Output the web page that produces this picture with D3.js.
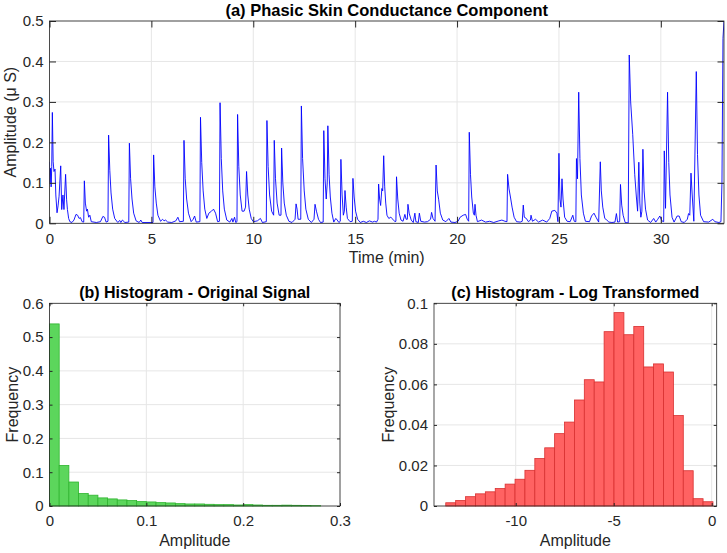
<!DOCTYPE html>
<html>
<head>
<meta charset="utf-8">
<script src="https://cdn.jsdelivr.net/npm/d3@7"></script>
<style>
  body { margin: 0; background: #fff; }
  svg { font-family: "Liberation Sans", Arial, Helvetica, sans-serif; }
</style>
</head>
<body>
<script>
// phasic component: [time (min), amplitude (uS)]
const signal = [
  [0,0.152],[0.02,0.10],[0.05,0.136],[0.08,0.09],[0.11,0.14],[0.14,0.274],[0.18,0.152],[0.22,0.128],
  [0.27,0.134],[0.31,0.07],[0.37,0.026],[0.42,0.043],[0.47,0.067],[0.55,0.142],[0.6,0.034],[0.66,0.07],
  [0.71,0.034],[0.79,0.121],[0.84,0.058],[0.88,0.034],[0.94,0.012],[1.0,0.004],[1.1,0.002],[1.2,0.008],
  [1.3,0.022],[1.38,0.02],[1.45,0.012],[1.52,0.014],[1.6,0.004],[1.68,0.003],[1.71,0.105],[1.76,0.05],
  [1.82,0.03],[1.86,0.035],[1.92,0.015],[1.98,0.02],[2.05,0.004],[2.3,0.002],[2.5,0.004],[2.62,0.017],
  [2.7,0.015],[2.78,0.003],[2.87,0.005],[2.9,0.218],[2.96,0.13],[3.02,0.075],[3.1,0.035],[3.2,0.012],
  [3.35,0.002],[3.45,0.007],[3.5,0.002],[3.58,0.008],[3.7,0.002],[3.89,0.003],[3.92,0.198],[3.98,0.11],
  [4.05,0.06],[4.13,0.025],[4.25,0.006],[4.4,0.002],[4.48,0.008],[4.55,0.002],[5.08,0.002],[5.11,0.169],
  [5.17,0.09],[5.24,0.05],[5.32,0.02],[5.45,0.005],[5.55,0.01],[5.62,0.006],[5.7,0.008],[5.8,0.003],
  [6.0,0.002],[6.2,0.006],[6.3,0.015],[6.38,0.004],[6.57,0.005],[6.6,0.205],[6.66,0.11],[6.73,0.06],
  [6.82,0.025],[6.95,0.004],[7.05,0.01],[7.12,0.018],[7.2,0.003],[7.38,0.004],[7.41,0.262],[7.47,0.15],
  [7.54,0.08],[7.62,0.035],[7.72,0.012],[7.82,0.025],[7.95,0.03],[8.05,0.035],[8.15,0.025],[8.25,0.004],
  [8.34,0.005],[8.37,0.298],[8.43,0.16],[8.5,0.08],[8.58,0.035],[8.7,0.008],[8.85,0.003],[8.95,0.012],
  [9.0,0.003],[9.08,0.015],[9.14,0.002],[9.2,0.004],[9.23,0.269],[9.29,0.14],[9.36,0.07],[9.45,0.03],
  [9.55,0.03],[9.62,0.04],[9.67,0.128],[9.73,0.07],[9.8,0.035],[9.9,0.012],[10.0,0.004],[10.2,0.006],
  [10.35,0.012],[10.45,0.002],[10.64,0.004],[10.67,0.254],[10.73,0.14],[10.8,0.07],[10.9,0.03],[11.0,0.02],
  [11.03,0.205],[11.09,0.11],[11.17,0.05],[11.27,0.02],[11.36,0.02],[11.39,0.186],[11.45,0.1],[11.52,0.05],
  [11.62,0.02],[11.75,0.005],[11.9,0.002],[12.05,0.01],[12.1,0.048],[12.15,0.035],[12.2,0.01],[12.33,0.01],
  [12.36,0.29],[12.42,0.16],[12.5,0.08],[12.58,0.035],[12.7,0.01],[12.85,0.002],[12.98,0.01],[13.03,0.047],
  [13.1,0.03],[13.2,0.01],[13.3,0.002],[13.43,0.003],[13.46,0.229],[13.52,0.11],[13.58,0.06],[13.63,0.1],
  [13.66,0.241],[13.72,0.12],[13.78,0.065],[13.86,0.025],[13.95,0.003],[14.05,0.012],[14.12,0.008],[14.2,0.002],
  [14.27,0.005],[14.3,0.158],[14.36,0.07],[14.42,0.02],[14.47,0.03],[14.5,0.081],[14.56,0.04],[14.62,0.012],
  [14.75,0.004],[14.86,0.005],[14.89,0.111],[14.95,0.065],[15.02,0.03],[15.12,0.01],[15.25,0.002],[15.4,0.005],
  [15.55,0.002],[15.7,0.006],[15.85,0.003],[15.95,0.005],[16.05,0.003],[16.12,0.01],[16.15,0.097],[16.2,0.06],
  [16.25,0.044],[16.31,0.086],[16.35,0.08],[16.4,0.167],[16.45,0.09],[16.5,0.05],[16.56,0.02],[16.65,0.012],
  [16.75,0.015],[16.85,0.01],[16.95,0.004],[17.0,0.005],[17.03,0.115],[17.09,0.06],[17.16,0.025],[17.25,0.008],
  [17.35,0.005],[17.44,0.022],[17.5,0.01],[17.56,0.01],[17.59,0.047],[17.65,0.025],[17.75,0.008],[17.85,0.002],
  [17.93,0.025],[17.98,0.004],[18.1,0.002],[18.15,0.025],[18.22,0.005],[18.4,0.003],[18.55,0.004],[18.7,0.01],
  [18.75,0.027],[18.82,0.012],[18.92,0.005],[18.97,0.144],[19.03,0.08],[19.1,0.058],[19.18,0.025],[19.3,0.008],
  [19.45,0.004],[19.6,0.012],[19.7,0.003],[19.9,0.002],[20.05,0.005],[20.15,0.015],[20.3,0.02],[20.42,0.022],
  [20.5,0.01],[20.57,0.005],[20.6,0.225],[20.66,0.12],[20.72,0.065],[20.8,0.025],[20.85,0.02],[20.88,0.047],
  [20.93,0.02],[21.0,0.004],[21.2,0.008],[21.4,0.003],[21.6,0.005],[21.8,0.002],[22.05,0.006],[22.2,0.008],
  [22.35,0.005],[22.45,0.004],[22.48,0.121],[22.55,0.085],[22.62,0.065],[22.7,0.04],[22.8,0.015],[22.92,0.004],
  [23.1,0.003],[23.2,0.005],[23.25,0.045],[23.3,0.015],[23.4,0.012],[23.5,0.004],[23.6,0.008],[23.63,0.02],
  [23.7,0.005],[23.85,0.01],[24.0,0.003],[24.2,0.008],[24.4,0.003],[24.55,0.012],[24.65,0.03],[24.8,0.032],
  [24.9,0.025],[24.95,0.004],[25.0,0.173],[25.05,0.06],[25.1,0.04],[25.15,0.11],[25.2,0.06],[25.28,0.015],
  [25.4,0.005],[25.55,0.004],[25.68,0.02],[25.75,0.005],[25.83,0.004],[25.86,0.16],[25.91,0.11],[25.97,0.324],
  [26.03,0.16],[26.1,0.07],[26.2,0.025],[26.3,0.005],[26.5,0.004],[26.6,0.018],[26.72,0.025],[26.82,0.015],
  [26.95,0.003],[27.03,0.152],[27.08,0.08],[27.15,0.04],[27.25,0.012],[27.35,0.008],[27.45,0.003],[27.6,0.002],
  [27.75,0.003],[27.82,0.024],[27.88,0.003],[27.98,0.004],[28.02,0.096],[28.08,0.045],[28.15,0.02],[28.25,0.002],
  [28.4,0.001],[28.45,0.416],[28.52,0.3],[28.62,0.22],[28.72,0.12],[28.8,0.065],[28.86,0.03],[28.92,0.151],
  [28.97,0.05],[29.02,0.015],[29.07,0.03],[29.12,0.183],[29.18,0.08],[29.25,0.035],[29.35,0.008],[29.5,0.002],
  [29.65,0.012],[29.75,0.003],[29.85,0.01],[29.95,0.018],[30.05,0.006],[30.14,0.004],[30.17,0.179],[30.23,0.037],
  [30.33,0.324],[30.39,0.15],[30.45,0.07],[30.55,0.015],[30.65,0.003],[30.8,0.018],[30.9,0.018],[31.0,0.004],
  [31.15,0.002],[31.3,0.01],[31.36,0.024],[31.42,0.02],[31.48,0.124],[31.54,0.07],[31.62,0.005],[31.74,0.375],
  [31.8,0.17],[31.87,0.07],[31.95,0.02],[32.1,0.004],[32.35,0.003],[32.55,0.01],[32.65,0.004],[32.85,0.002],
  [32.95,0.004],[33.0,0.1],[33.05,0.457],[33.1,0.5]
];

// histogram of the original signal, bins of 0.01 starting at 0
const origStart = 0, origWidth = 0.01;
const origFreq = [0.539,0.120,0.071,0.037,0.032,0.024,0.021,0.018,0.016,0.013,0.012,0.010,0.009,0.007,
  0.006,0.006,0.005,0.004,0.004,0.003,0.004,0.003,0.002,0.002,0.0025,0.002,0.0015,0.001];

// histogram of log amplitude
const logStart = -13.57, logWidth = 0.505;
const logFreq = [0.0016,0.0027,0.0046,0.0060,0.0070,0.0086,0.0108,0.0132,0.0176,0.0234,0.0287,0.0357,
  0.0414,0.0523,0.0623,0.0612,0.0860,0.0954,0.0845,0.0886,0.0686,0.0701,0.0661,0.0446,0.0174,0.0036,0.0021];

const timeTicks = [0,5,10,15,20,25,30];
const ampTicks = [0,0.1,0.2,0.3,0.4,0.5];
const origXTicks = [0,0.1,0.2,0.3];
const origYTicks = [0,0.1,0.2,0.3,0.4,0.5,0.6];
const logXTicks = [-10,-5,0];
const logYTicks = [0,0.02,0.04,0.06,0.08,0.1];

const W = 727, H = 553;
const ink = "#262626";
const fmt = d => String(Math.round(d * 1000) / 1000);

const svg = d3.select("body").append("svg").attr("width", W).attr("height", H);

function panel(box, xDom, yDom, xTicks, yTicks, tl) {
  const x = d3.scaleLinear().domain(xDom).range([box.l, box.r]);
  const y = d3.scaleLinear().domain(yDom).range([box.b, box.t]);
  const g = svg.append("g");
  const grid = g.append("g").attr("stroke", "#e6e6e6").attr("stroke-width", 1);
  grid.selectAll(".gx").data(xTicks).join("line")
    .attr("x1", d => x(d)).attr("x2", d => x(d)).attr("y1", box.t).attr("y2", box.b);
  grid.selectAll(".gy").data(yTicks).join("line")
    .attr("x1", box.l).attr("x2", box.r).attr("y1", d => y(d)).attr("y2", d => y(d));
  const data = g.append("g");
  const axes = g.append("g");
  return {x, y, g, data, axes, box, xTicks, yTicks, tl};
}

function finish(p, xpad, ypad) {
  const {x, y, axes, box, xTicks, yTicks, tl} = p;
  const style = s => {
    s.select(".domain").remove();
    s.selectAll(".tick line").attr("stroke", ink);
    s.selectAll(".tick text").attr("fill", ink).style("font-size", "15px");
  };
  axes.append("g").attr("transform", `translate(0,${box.b})`)
    .call(d3.axisBottom(x).tickValues(xTicks).tickSize(-tl).tickPadding(xpad).tickFormat(fmt)).call(style);
  axes.append("g").attr("transform", `translate(0,${box.t})`)
    .call(d3.axisTop(x).tickValues(xTicks).tickSize(-tl).tickFormat("")).call(style);
  axes.append("g").attr("transform", `translate(${box.l},0)`)
    .call(d3.axisLeft(y).tickValues(yTicks).tickSize(-tl).tickPadding(ypad).tickFormat(fmt)).call(style);
  axes.append("g").attr("transform", `translate(${box.r},0)`)
    .call(d3.axisRight(y).tickValues(yTicks).tickSize(-tl).tickFormat("")).call(style);
  axes.selectAll("g").attr("font-family", null);
  axes.append("rect").attr("x", box.l).attr("y", box.t)
    .attr("width", box.r - box.l).attr("height", box.b - box.t)
    .attr("fill", "none").attr("stroke", ink).attr("stroke-width", 0.8);
}

function labels(box, title, xl, yl, titleSize, ylx) {
  const cx = (box.l + box.r) / 2;
  svg.append("text").attr("x", cx).attr("y", box.t - 5).attr("text-anchor", "middle")
    .style("font-size", titleSize + "px").style("font-weight", "bold").attr("fill", "#000").text(title);
  svg.append("text").attr("x", cx).attr("y", box.b + 40).attr("text-anchor", "middle")
    .style("font-size", "16px").attr("fill", ink).text(xl);
  svg.append("text").attr("transform", `translate(${ylx},${(box.t + box.b) / 2}) rotate(-90)`)
    .attr("text-anchor", "middle").style("font-size", "16px").attr("fill", ink).text(yl);
}

// (a) signal
const pa = panel({l: 49.5, r: 724, t: 21, b: 223.3}, [0, 33.1], [0, 0.5], timeTicks, ampTicks, 6.5);
svg.append("clipPath").attr("id", "clipA").append("rect")
  .attr("x", pa.box.l).attr("y", pa.box.t).attr("width", pa.box.r - pa.box.l).attr("height", pa.box.b - pa.box.t);
pa.data.attr("clip-path", "url(#clipA)").append("path")
  .datum(signal)
  .attr("d", d3.line().x(d => pa.x(d[0])).y(d => pa.y(d[1])))
  .attr("fill", "none").attr("stroke", "#0000ff").attr("stroke-width", 0.9).attr("stroke-linejoin", "round");
finish(pa, 10, 6);
labels(pa.box, "(a) Phasic Skin Conductance Component", "Time (min)", "Amplitude (\u03bc S)", 16.5, 16);

// (b) original histogram
const pb = panel({l: 49.5, r: 340, t: 303.3, b: 506}, [0, 0.3], [0, 0.6], origXTicks, origYTicks, 3);
pb.data.selectAll("rect").data(origFreq).join("rect")
  .attr("x", (d, i) => pb.x(origStart + i * origWidth))
  .attr("width", (d, i) => pb.x(origStart + (i + 1) * origWidth) - pb.x(origStart + i * origWidth))
  .attr("y", d => pb.y(d)).attr("height", d => pb.y(0) - pb.y(d))
  .attr("fill", "#5cd65c").attr("stroke", "#2fb52f").attr("stroke-width", 0.8);
finish(pb, 9, 6);
labels(pb.box, "(b) Histogram - Original Signal", "Amplitude", "Frequency", 16, 18);

// (c) log histogram
const pc = panel({l: 434, r: 716.7, t: 303.3, b: 506}, [-14.17, 0.255], [0, 0.1], logXTicks, logYTicks, 3);
pc.data.selectAll("rect").data(logFreq).join("rect")
  .attr("x", (d, i) => pc.x(logStart + i * logWidth))
  .attr("width", (d, i) => pc.x(logStart + (i + 1) * logWidth) - pc.x(logStart + i * logWidth))
  .attr("y", d => pc.y(d)).attr("height", d => pc.y(0) - pc.y(d))
  .attr("fill", "#ff6262").attr("stroke", "#d83030").attr("stroke-width", 0.8);
finish(pc, 9, 6);
labels(pc.box, "(c) Histogram - Log Transformed", "Amplitude", "Frequency", 16, 394);
</script>
</body>
</html>
